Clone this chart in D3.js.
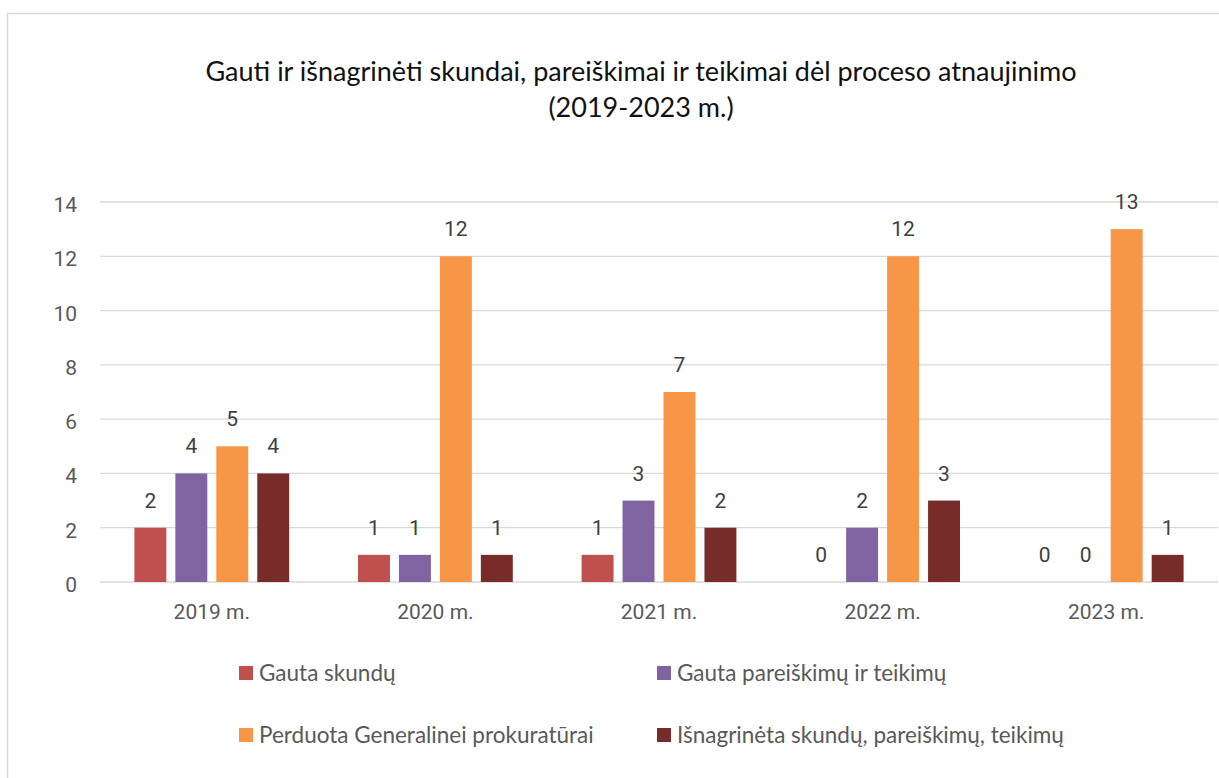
<!DOCTYPE html>
<html>
<head>
<meta charset="utf-8">
<script src="https://cdn.jsdelivr.net/npm/d3@7"></script>
<style>
  body { margin: 0; background: #fff; }
  svg { display: block; }
</style>
</head>
<body>
<svg width="1219" height="778"></svg>
<script>
const categories = ["2019 m.", "2020 m.", "2021 m.", "2022 m.", "2023 m."];
const seriesNames = [
    "Gauta skundų",
    "Gauta pareiškimų ir teikimų",
    "Perduota Generalinei prokuratūrai",
    "Išnagrinėta skundų, pareiškimų, teikimų"
];
const gautaSkundu = [2, 1, 1, 0, 0];
const gautaPareiskimu = [4, 1, 3, 2, 0];
const perduota = [5, 12, 7, 12, 13];
const isnagrineta = [4, 1, 2, 3, 1];
const yTicks = [0, 2, 4, 6, 8, 10, 12, 14];
const colors = ["#c0504d", "#8064a2", "#f79646", "#772c2a"];
const titleLines = [
    "Gauti ir išnagrinėti skundai, pareiškimai ir teikimai dėl proceso atnaujinimo",
    "(2019-2023 m.)"
];

const seriesValues = [gautaSkundu, gautaPareiskimu, perduota, isnagrineta];

const svg = d3.select("svg");

// chart frame
svg.append("rect")
    .attr("x", 7.5).attr("y", 13.5)
    .attr("width", 1230).attr("height", 800)
    .attr("fill", "#fff")
    .attr("stroke", "#d9d9d9")
    .attr("stroke-width", 1.5);

// title
svg.append("text")
    .attr("text-anchor", "middle")
    .attr("font-family", "Lato, 'Open Sans', sans-serif")
    .attr("font-size", "27px")
    .attr("fill", "#111")
    .selectAll("tspan")
    .data(titleLines)
    .enter()
    .append("tspan")
    .attr("x", 641)
    .attr("y", (d, i) => 81 + i * 36)
    .text(d => d);

const x0 = d3.scaleBand()
    .domain(categories)
    .range([100, 1218])
    .padding(0);

const x1 = d3.scaleBand()
    .domain(d3.range(seriesNames.length))
    .range([0, x0.bandwidth()])
    .paddingInner(0.22)
    .paddingOuter(0.84);

const y = d3.scaleLinear()
    .domain([0, 14])
    .range([582, 202]);

// gridlines
svg.append("g")
    .selectAll("line")
    .data(yTicks)
    .enter()
    .append("line")
    .attr("x1", 100).attr("x2", 1218)
    .attr("y1", d => y(d)).attr("y2", d => y(d))
    .attr("stroke", "#d9d9d9")
    .attr("stroke-width", 1.3);

// y axis
const yAxis = svg.append("g")
    .attr("transform", "translate(77,0)")
    .call(d3.axisLeft(y).tickValues(yTicks).tickSize(0).tickPadding(0));
yAxis.select(".domain").remove();
yAxis.selectAll("text")
    .attr("font-family", "Roboto, sans-serif")
    .attr("font-size", "21px")
    .attr("fill", "#595959")
    .attr("dy", "0.45em");

// x axis
const xAxis = svg.append("g")
    .attr("transform", "translate(0,582)")
    .call(d3.axisBottom(x0).tickSize(0).tickPadding(0));
xAxis.select(".domain").remove();
xAxis.selectAll("text")
    .attr("font-family", "Roboto, sans-serif")
    .attr("font-size", "21px")
    .attr("fill", "#595959")
    .attr("dy", "1.78em");

// bars
const rows = [];
categories.forEach((c, ci) => {
    seriesValues.forEach((vals, si) => {
        rows.push({ cat: c, s: si, v: vals[ci] });
    });
});

svg.append("g")
    .selectAll("rect")
    .data(rows.filter(d => d.v > 0))
    .enter()
    .append("rect")
    .attr("x", d => x0(d.cat) + x1(d.s))
    .attr("y", d => y(d.v))
    .attr("width", x1.bandwidth())
    .attr("height", d => y(0) - y(d.v))
    .attr("fill", d => colors[d.s]);

// data labels
svg.append("g")
    .selectAll("text")
    .data(rows)
    .enter()
    .append("text")
    .attr("x", d => x0(d.cat) + x1(d.s) + x1.bandwidth() / 2)
    .attr("y", d => y(d.v) - 20)
    .attr("text-anchor", "middle")
    .attr("font-family", "Roboto, sans-serif")
    .attr("font-size", "21px")
    .attr("fill", "#404040")
    .text(d => d.v);

// legend
const legendPos = [[239, 673], [657, 673], [239, 735], [657, 735]];
const legend = svg.append("g")
    .selectAll("g")
    .data(seriesNames)
    .enter()
    .append("g")
    .attr("transform", (d, i) => `translate(${legendPos[i][0]},${legendPos[i][1]})`);

legend.append("rect")
    .attr("x", 0).attr("y", -7)
    .attr("width", 14).attr("height", 14)
    .attr("fill", (d, i) => colors[i]);

legend.append("text")
    .attr("x", 20)
    .attr("y", 7.5)
    .attr("font-family", "Lato, 'Open Sans', sans-serif")
    .attr("font-size", "22.5px")
    .attr("fill", "#595959")
    .text(d => d);
</script>
</body>
</html>
